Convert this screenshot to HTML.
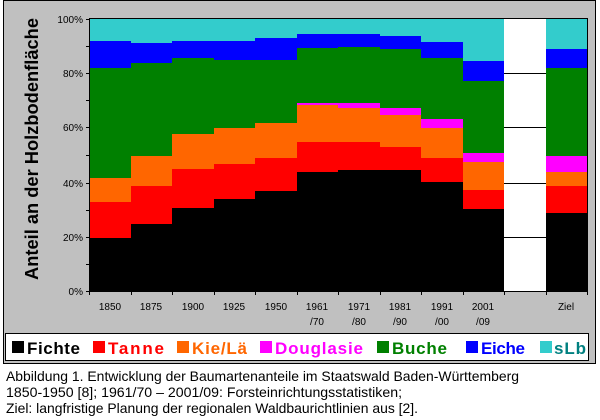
<!DOCTYPE html>
<html><head><meta charset="utf-8"><style>
html,body{margin:0;padding:0;background:#fff;width:600px;height:420px;overflow:hidden}
svg{display:block}
</style></head><body>
<svg width="600" height="420" xmlns="http://www.w3.org/2000/svg" font-family="Liberation Sans, sans-serif">
<rect x="3.5" y="0.5" width="592" height="363" fill="#c0c0c0" stroke="#000"/>
<rect x="504" y="19" width="42" height="273" fill="#fff"/>
<g stroke="#000"><line x1="504" x2="546" y1="73.5" y2="73.5"/><line x1="504" x2="546" y1="127.5" y2="127.5"/><line x1="504" x2="546" y1="183.5" y2="183.5"/><line x1="504" x2="546" y1="237.5" y2="237.5"/></g>
<g shape-rendering="crispEdges">
<g transform="translate(89,0)">
<rect width="42" y="19" height="273" fill="#33cccc"/><rect width="42" y="41" height="251" fill="#0000ff"/><rect width="42" y="68" height="224" fill="#008000"/><rect width="42" y="178" height="114" fill="#ff6600"/><rect width="42" y="202" height="90" fill="#ff0000"/><rect width="42" y="238" height="54" fill="#000"/></g>
<g transform="translate(131,0)">
<rect width="41" y="19" height="273" fill="#33cccc"/><rect width="41" y="43" height="249" fill="#0000ff"/><rect width="41" y="63" height="229" fill="#008000"/><rect width="41" y="156" height="136" fill="#ff6600"/><rect width="41" y="186" height="106" fill="#ff0000"/><rect width="41" y="224" height="68" fill="#000"/></g>
<g transform="translate(172,0)">
<rect width="42" y="19" height="273" fill="#33cccc"/><rect width="42" y="41" height="251" fill="#0000ff"/><rect width="42" y="58" height="234" fill="#008000"/><rect width="42" y="134" height="158" fill="#ff6600"/><rect width="42" y="169" height="123" fill="#ff0000"/><rect width="42" y="208" height="84" fill="#000"/></g>
<g transform="translate(214,0)">
<rect width="41" y="19" height="273" fill="#33cccc"/><rect width="41" y="41" height="251" fill="#0000ff"/><rect width="41" y="60" height="232" fill="#008000"/><rect width="41" y="128" height="164" fill="#ff6600"/><rect width="41" y="164" height="128" fill="#ff0000"/><rect width="41" y="199" height="93" fill="#000"/></g>
<g transform="translate(255,0)">
<rect width="42" y="19" height="273" fill="#33cccc"/><rect width="42" y="38" height="254" fill="#0000ff"/><rect width="42" y="60" height="232" fill="#008000"/><rect width="42" y="123" height="169" fill="#ff6600"/><rect width="42" y="158" height="134" fill="#ff0000"/><rect width="42" y="191" height="101" fill="#000"/></g>
<g transform="translate(297,0)">
<rect width="41" y="19" height="273" fill="#33cccc"/><rect width="41" y="34" height="258" fill="#0000ff"/><rect width="41" y="48" height="244" fill="#008000"/><rect width="41" y="103" height="189" fill="#ff00ff"/><rect width="41" y="105" height="187" fill="#ff6600"/><rect width="41" y="142" height="150" fill="#ff0000"/><rect width="41" y="172" height="120" fill="#000"/></g>
<g transform="translate(338,0)">
<rect width="42" y="19" height="273" fill="#33cccc"/><rect width="42" y="34" height="258" fill="#0000ff"/><rect width="42" y="47" height="245" fill="#008000"/><rect width="42" y="103" height="189" fill="#ff00ff"/><rect width="42" y="108" height="184" fill="#ff6600"/><rect width="42" y="142" height="150" fill="#ff0000"/><rect width="42" y="170" height="122" fill="#000"/></g>
<g transform="translate(380,0)">
<rect width="41" y="19" height="273" fill="#33cccc"/><rect width="41" y="36" height="256" fill="#0000ff"/><rect width="41" y="49" height="243" fill="#008000"/><rect width="41" y="108" height="184" fill="#ff00ff"/><rect width="41" y="115" height="177" fill="#ff6600"/><rect width="41" y="147" height="145" fill="#ff0000"/><rect width="41" y="170" height="122" fill="#000"/></g>
<g transform="translate(421,0)">
<rect width="42" y="19" height="273" fill="#33cccc"/><rect width="42" y="42" height="250" fill="#0000ff"/><rect width="42" y="58" height="234" fill="#008000"/><rect width="42" y="119" height="173" fill="#ff00ff"/><rect width="42" y="128" height="164" fill="#ff6600"/><rect width="42" y="158" height="134" fill="#ff0000"/><rect width="42" y="182" height="110" fill="#000"/></g>
<g transform="translate(463,0)">
<rect width="41" y="19" height="273" fill="#33cccc"/><rect width="41" y="61" height="231" fill="#0000ff"/><rect width="41" y="81" height="211" fill="#008000"/><rect width="41" y="153" height="139" fill="#ff00ff"/><rect width="41" y="162" height="130" fill="#ff6600"/><rect width="41" y="190" height="102" fill="#ff0000"/><rect width="41" y="209" height="83" fill="#000"/></g>
<g transform="translate(546,0)">
<rect width="41" y="19" height="273" fill="#33cccc"/><rect width="41" y="49" height="243" fill="#0000ff"/><rect width="41" y="68" height="224" fill="#008000"/><rect width="41" y="156" height="136" fill="#ff00ff"/><rect width="41" y="172" height="120" fill="#ff6600"/><rect width="41" y="186" height="106" fill="#ff0000"/><rect width="41" y="213" height="79" fill="#000"/></g>
</g>
<rect x="89.5" y="18.5" width="498" height="273" fill="none" stroke="#000" stroke-width="1"/>
<g stroke="#000">
<line x1="86" x2="89" y1="19.5" y2="19.5"/><line x1="86" x2="89" y1="73.5" y2="73.5"/><line x1="86" x2="89" y1="127.5" y2="127.5"/><line x1="86" x2="89" y1="183.5" y2="183.5"/><line x1="86" x2="89" y1="237.5" y2="237.5"/><line x1="86" x2="89" y1="291.5" y2="291.5"/>
<line x1="86" x2="89" y1="46.5" y2="46.5"/><line x1="86" x2="89" y1="100.5" y2="100.5"/><line x1="86" x2="89" y1="155.5" y2="155.5"/><line x1="86" x2="89" y1="210.5" y2="210.5"/><line x1="86" x2="89" y1="264.5" y2="264.5"/>
<line x1="89.5" x2="89.5" y1="292" y2="295"/><line x1="131.5" x2="131.5" y1="292" y2="295"/><line x1="172.5" x2="172.5" y1="292" y2="295"/><line x1="214.5" x2="214.5" y1="292" y2="295"/><line x1="255.5" x2="255.5" y1="292" y2="295"/><line x1="297.5" x2="297.5" y1="292" y2="295"/><line x1="338.5" x2="338.5" y1="292" y2="295"/><line x1="380.5" x2="380.5" y1="292" y2="295"/><line x1="421.5" x2="421.5" y1="292" y2="295"/><line x1="463.5" x2="463.5" y1="292" y2="295"/><line x1="504.5" x2="504.5" y1="292" y2="295"/><line x1="546.5" x2="546.5" y1="292" y2="295"/><line x1="587.5" x2="587.5" y1="292" y2="295"/>
</g>
<g font-size="10" text-anchor="end" fill="#000">
<text x="83" y="23">100%</text><text x="83" y="77">80%</text><text x="83" y="131">60%</text><text x="83" y="187">40%</text><text x="83" y="241">20%</text><text x="83" y="295">0%</text>
</g>
<g font-size="10" text-anchor="middle" fill="#000">
<text x="110" y="310">1850</text><text x="151" y="310">1875</text><text x="193" y="310">1900</text><text x="234" y="310">1925</text><text x="276" y="310">1950</text>
<text x="317" y="310">1961</text><text x="359" y="310">1971</text><text x="400" y="310">1981</text><text x="442" y="310">1991</text><text x="483" y="310">2001</text><text x="566" y="310">Ziel</text>
<text x="317" y="325">/70</text><text x="359" y="325">/80</text><text x="400" y="325">/90</text><text x="442" y="325">/00</text><text x="483" y="325">/09</text>
</g>
<text transform="translate(38,149) rotate(-90)" text-anchor="middle" font-size="18" font-weight="bold" textLength="262" lengthAdjust="spacingAndGlyphs">Anteil an der Holzbodenfläche</text>
<rect x="5.5" y="333.5" width="583" height="27" fill="#fff" stroke="#000"/>
<g font-size="17" font-weight="bold">
<rect x="12" y="341" width="12" height="12" fill="#000"/><text x="27" y="354" fill="#000" textLength="53">Fichte</text>
<rect x="93" y="341" width="12" height="12" fill="#ff0000"/><text x="108" y="354" fill="#ff0000" textLength="56">Tanne</text>
<rect x="177" y="341" width="12" height="12" fill="#ff6600"/><text x="192" y="354" fill="#ff6600" textLength="55">Kie/Lä</text>
<rect x="260" y="341" width="12" height="12" fill="#ff00ff"/><text x="275" y="354" fill="#ff00ff" textLength="88">Douglasie</text>
<rect x="377" y="341" width="12" height="12" fill="#008000"/><text x="392" y="354" fill="#008000" textLength="55">Buche</text>
<rect x="466" y="341" width="12" height="12" fill="#0000ff"/><text x="481" y="354" fill="#0000ff" textLength="44">Eiche</text>
<rect x="540" y="341" width="12" height="12" fill="#33cccc"/><text x="554" y="354" fill="#008080" textLength="32">sLb</text>
</g>
<g font-size="14" fill="#000">
<text x="6" y="381" textLength="513" lengthAdjust="spacingAndGlyphs">Abbildung 1. Entwicklung der Baumartenanteile im Staatswald Baden-Württemberg</text>
<text x="6" y="397" textLength="396" lengthAdjust="spacingAndGlyphs">1850-1950  [8]; 1961/70 – 2001/09: Forsteinrichtungsstatistiken;</text>
<text x="6" y="413" textLength="412" lengthAdjust="spacingAndGlyphs">Ziel: langfristige Planung der regionalen Waldbaurichtlinien aus [2].</text>
</g>
</svg>
</body></html>
